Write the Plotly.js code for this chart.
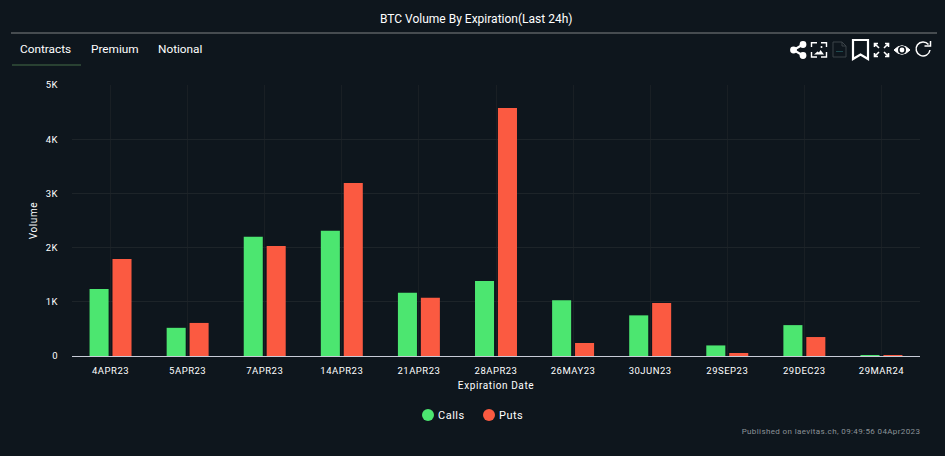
<!DOCTYPE html>
<html>
<head>
<meta charset="utf-8">
<script src="https://cdn.plot.ly/plotly-3.0.1.min.js"></script>
<style>
html,body{margin:0;padding:0;background:#0e161d;overflow:hidden}
#chart{width:945px;height:456px}
#icons{position:absolute;left:0;top:0;pointer-events:none}
#chart .xtick text,#chart .ytick text{letter-spacing:.5px}
#chart .g-xtitle text,#chart .g-ytitle text{letter-spacing:.6px}
#chart .legendtext{letter-spacing:.5px}
#chart .annotation[data-index="4"] text{letter-spacing:.38px}
</style>
</head>
<body>
<div id="chart"></div>
<svg id="icons" width="945" height="456" fill="none" stroke="#fff" stroke-width="2">
  <g stroke-width="2.200"><path d="M803 44.500 L793.500 50 L803 55.500"/><circle cx="803" cy="44.500" r="3.400" fill="#fff" stroke="none"/><circle cx="803" cy="55.500" r="3.400" fill="#fff" stroke="none"/><circle cx="793.500" cy="50" r="3.400" fill="#fff" stroke="none"/></g>
  <g stroke-width="1.400"><path d="M811.500 47V42.700H817M821 42.700H826.500V47M826.500 52V57H821M817 57H811.500V52"/><path d="M814 54.500l3.500-3 1.500 1 1.500-2.500 3.500 4.500z" fill="#fff" stroke="none"/><circle cx="821.500" cy="47" r="1" fill="#fff" stroke="none"/></g>
  <g stroke="#3a4248" stroke-width="1"><path d="M833 42H842L846 46V57H833Z"/><path d="M842 42V46H846"/><path d="M836 51.500H843" stroke="#1f4a50"/></g>
  <path d="M853 40H868V59L860.500 54.500 853 59Z" stroke-width="2.200"/>
  <g stroke-width="1.600"><path d="M879 48l-4-4M874.500 47V43.500H878M884 48l4-4M885 43.500H888.500V47M879 52l-4 4M874.500 53V56.500H878M884 52l4 4M885 56.500H888.500V53"/></g>
  <path d="M894 50Q902 41.500 910 50Q902 58.500 894 50Z" fill="#fff" stroke="#fff" stroke-width="1"/><circle cx="902" cy="50" r="4" fill="#0e161d" stroke="none"/><circle cx="902" cy="50" r="2.400" fill="#fff" stroke="none"/>
  <path d="M928.500 44.500A7 7 0 1 0 930 50" stroke-width="1.500"/><path d="M924.500 46H930.500V41" stroke-width="1.500"/>
</svg>
<script>
var categories = ['4APR23','5APR23','7APR23','14APR23','21APR23','28APR23','26MAY23','30JUN23','29SEP23','29DEC23','29MAR24'];
var calls = [1236,520,2200,2310,1165,1385,1030,750,195,570,12];
var puts  = [1790,610,2030,3190,1075,4575,240,980,55,350,10];
var yTickVals = [0,1000,2000,3000,4000,5000];
var yTickText = ['0','1K','2K','3K','4K','5K'];
var GREEN = '#4ce670', RED = '#fb5a41';
var data = [
  {type:'bar',name:'Calls',x:categories,y:calls,marker:{color:GREEN},showlegend:false},
  {type:'bar',name:'Puts',x:categories,y:puts,marker:{color:RED},showlegend:false},
  {type:'scatter',mode:'markers',name:'Calls',x:[null],y:[null],marker:{color:GREEN,size:13,symbol:'circle'}},
  {type:'scatter',mode:'markers',name:'Puts',x:[null],y:[null],marker:{color:RED,size:13,symbol:'circle'}}
];
var tickFont = {family:'Roboto, sans-serif',size:9.5,color:'#ffffff'};
var titleFont = {family:'Roboto, sans-serif',size:10,color:'#ffffff'};
var textW = {family:'Roboto, sans-serif',size:11.800,color:'#ffffff'};
function note(x,y,text,font,xa){return {xref:'paper',yref:'paper',x:x,y:y,text:text,font:font,showarrow:false,xanchor:xa||'center',yanchor:'middle'};}
var W=945,H=456,L=72,R=920,T=85,B=356;
function px(v){return (v-L)/(R-L);}
function py(v){return (B-v)/(B-T);}
var layout = {
  width:W,height:H,
  paper_bgcolor:'#0e161d',plot_bgcolor:'#0e161d',
  margin:{l:L,r:W-R,t:T,b:H-B},
  barmode:'group',bargap:0.405,bargroupgap:0.17,
  xaxis:{type:'category',categories:categories,tickfont:tickFont,showgrid:true,gridcolor:'#191f24',gridwidth:1,
    showline:true,linecolor:'#c8ccd8',linewidth:1,ticks:'outside',ticklen:6,tickcolor:'rgba(0,0,0,0)',tickangle:0,fixedrange:true,
    title:{text:'Expiration Date',font:titleFont,standoff:6}},
  yaxis:{range:[0,5000],tickvals:yTickVals,ticktext:yTickText,tickfont:tickFont,
    showgrid:true,gridcolor:'#1d2429',gridwidth:1,zeroline:false,showline:false,ticks:'outside',ticklen:11,tickcolor:'rgba(0,0,0,0)',fixedrange:true,
    title:{text:'Volume',font:titleFont,standoff:7}},
  legend:{orientation:'h',x:px(472),xanchor:'center',y:py(415),yanchor:'middle',font:{family:'Roboto, sans-serif',size:11,color:'#ffffff'},itemsizing:'constant',bgcolor:'rgba(0,0,0,0)'},
  annotations:[
    note(px(476),py(19),'BTC Volume By Expiration(Last 24h)',{family:'Roboto, sans-serif',size:12,color:'#ffffff'}),
    note(px(45.500),py(49),'Contracts',textW),
    note(px(114.500),py(49),'Premium',textW),
    note(px(179.500),py(49),'Notional',textW),
    note(px(913.500),py(431),'Published on laevitas.ch, 09:49:56 04Apr2023',{family:'Roboto, sans-serif',size:8,color:'#8b9298'},'right')
  ],
  shapes:[
    {type:'line',xref:'paper',yref:'paper',x0:px(11),x1:px(937),y0:py(33),y1:py(33),line:{color:'#5a5f62',width:1.500}},
    {type:'line',xref:'paper',yref:'paper',x0:px(12),x1:px(81),y0:py(65),y1:py(65),line:{color:'#33503a',width:1.500}}
  ],
  hovermode:false
};
Plotly.newPlot('chart',data,layout,{displayModeBar:false,responsive:false}).then(function(){
  // tighten the legend: the library's minimum item width is wider than the reference's
  var items=document.querySelectorAll('#chart .legend .traces');
  var targets=[428,489];
  items.forEach(function(it,i){
    var pt=it.querySelector('.legendpoints path');
    var r=pt.getBoundingClientRect();
    var m=it.getAttribute('transform').match(/translate\(([-\d.]+),\s*([-\d.]+)\)/);
    var tx=parseFloat(m[1])+(targets[i]-(r.left+r.width/2));
    it.setAttribute('transform','translate('+tx+','+m[2]+')');
    var t=it.querySelector('.legendtext');
    t.setAttribute('x',parseFloat(t.getAttribute('x'))-10);
  });
  var clip=document.querySelectorAll('#chart clipPath[id^="legend"] rect');
  clip.forEach(function(c){c.setAttribute('x',-200);c.setAttribute('width',800);});
});
</script>
</body>
</html>
